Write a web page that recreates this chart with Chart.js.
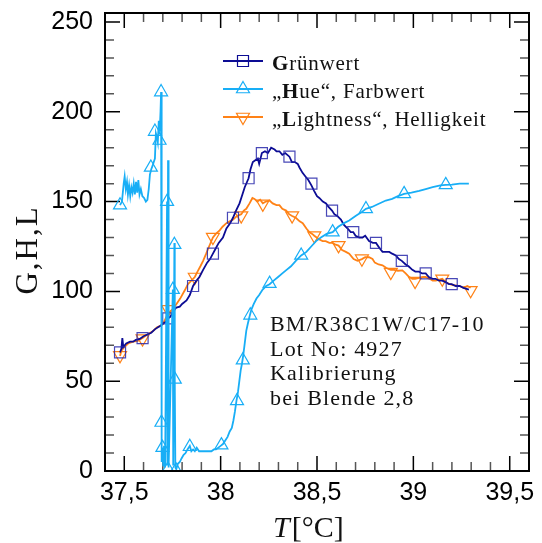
<!DOCTYPE html>
<html>
<head>
<meta charset="utf-8">
<title>G, H, L über T</title>
<script src="https://cdn.jsdelivr.net/npm/chart.js@4.4.1/dist/chart.umd.min.js"></script>
<style>
  html, body { margin: 0; padding: 0; background: #fff; overflow: hidden; }
  #wrap { width: 542px; height: 543px; }
</style>
</head>
<body>
<div id="wrap"><canvas id="chart"></canvas></div>
<script>
// Grünwert (G), line and marker points.
const gruenT = [37.478, 37.485, 37.490, 37.495, 37.510, 37.530, 37.546, 37.560, 37.580, 37.600,
  37.620, 37.640, 37.660, 37.675, 37.690, 37.700, 37.715, 37.728, 37.740, 37.755,
  37.770, 37.788, 37.800, 37.823, 37.840, 37.857, 37.875, 37.890, 37.909, 37.930,
  37.945, 37.960, 37.975, 37.990, 38.012, 38.030, 38.050, 38.064, 38.080, 38.098,
  38.110, 38.125, 38.145, 38.155, 38.167, 38.180, 38.193, 38.200, 38.214, 38.230,
  38.245, 38.262, 38.280, 38.290, 38.305, 38.320, 38.335, 38.357, 38.370, 38.385,
  38.400, 38.409, 38.425, 38.440, 38.455, 38.471, 38.485, 38.500, 38.512, 38.530,
  38.547, 38.560, 38.578, 38.590, 38.605, 38.624, 38.640, 38.659, 38.675, 38.688,
  38.700, 38.720, 38.736, 38.750, 38.770, 38.790, 38.806, 38.825, 38.840, 38.857,
  38.875, 38.890, 38.909, 38.925, 38.940, 38.960, 38.975, 38.995, 39.010, 39.030,
  39.045, 39.064, 39.080, 39.100, 39.115, 39.133, 39.150, 39.170, 39.185, 39.199,
  39.220, 39.240, 39.260, 39.288];
const gruenV = [66, 68, 74, 69, 71, 72, 72, 73, 73.5, 75,
  76, 77, 79, 80, 81, 82, 83, 85, 86, 89,
  91, 91.5, 93, 95, 98, 103, 106, 108, 112, 116,
  118, 121, 124, 127, 130, 135, 138, 141, 145, 149,
  153, 158, 163, 168, 172, 173, 174, 171, 177, 178,
  177, 180, 179, 178, 178, 176, 177, 175, 172, 172,
  171, 169, 166, 164, 162, 159, 156, 153, 152, 150,
  149, 147, 145, 143, 142, 140, 137, 135, 133, 133,
  131, 130, 130, 131, 128, 127, 127, 124, 122, 122,
  122, 121, 120, 118, 117, 115, 114, 112, 111, 111,
  110, 110, 108, 107, 107, 106, 106, 105, 104, 104,
  103, 103, 102, 101];
const gruenMarkT = [37.478, 37.595, 37.728, 37.857, 37.960, 38.064, 38.145, 38.214,
  38.357, 38.471, 38.578, 38.688, 38.806, 38.940, 39.064, 39.199];
const gruenMarkV = [66, 74, 85, 103, 121, 141, 163, 177, 175, 160, 145, 133, 127, 117, 110, 104];

// "Hue", Farbwert (H).
const hueT = [37.478, 37.488, 37.497, 37.502, 37.508, 37.514, 37.519, 37.525, 37.531, 37.537,
  37.543, 37.549, 37.555, 37.561, 37.567, 37.573, 37.579, 37.586, 37.594, 37.603,
  37.612, 37.620, 37.627, 37.633, 37.640, 37.647, 37.653, 37.659, 37.664, 37.669,
  37.674, 37.679, 37.684, 37.688, 37.691, 37.693, 37.695, 37.698, 37.702, 37.706,
  37.712, 37.722, 37.724, 37.727, 37.730, 37.752, 37.754, 37.760, 37.762, 37.765,
  37.770, 37.778, 37.788, 37.797, 37.808, 37.818, 37.828, 37.840, 37.848, 37.857,
  37.866, 37.876, 37.888, 37.900, 37.912, 37.926, 37.940, 37.952, 37.965, 37.976,
  37.988, 38.000, 38.012, 38.024, 38.036, 38.047, 38.058, 38.066, 38.074, 38.082,
  38.090, 38.097, 38.104, 38.111, 38.118, 38.125, 38.133, 38.141, 38.150, 38.160,
  38.172, 38.186, 38.200, 38.218, 38.236, 38.254, 38.275, 38.298, 38.320, 38.342,
  38.365, 38.390, 38.418, 38.445, 38.470, 38.495, 38.520, 38.550, 38.581, 38.610,
  38.640, 38.667, 38.700, 38.730, 38.754, 38.785, 38.815, 38.857, 38.890, 38.920,
  38.952, 38.990, 39.030, 39.064, 39.100, 39.140, 39.168, 39.200, 39.240, 39.288];
const hueV = [148, 150, 160, 164, 157, 161, 154, 159, 153, 158,
  155, 160, 154, 161, 155, 162, 154, 157, 153, 152,
  150, 151, 157, 165, 168, 170, 172, 174, 188, 186,
  183, 195, 189, 200, 211, 28, 5, 13, 3, 14,
  2, 150, 3, 173, 2, 101, 3, 127, 50, 2,
  1, 4, 5, 7, 9, 10, 12, 14, 11, 12,
  11, 13, 11, 11, 11, 11, 11, 11, 12, 12,
  13, 14, 15, 17, 19, 22, 24, 28, 33, 39,
  44, 50, 56, 60, 65, 71, 78, 82, 86, 90,
  93, 96, 98, 101, 103, 104, 106, 108, 110, 112,
  114, 117, 120, 122, 125, 128, 130, 132, 133, 136,
  138, 139.5, 142, 144, 146, 147, 148.5, 150.6, 151.5, 153,
  154.3, 155, 156, 157, 158, 159, 159.3, 159.5, 160, 160];
const hueMarkT = [37.478, 37.638, 37.659, 37.683, 37.691, 37.693, 37.698, 37.722, 37.727,
  37.752, 37.760, 37.762, 37.768, 37.840, 38.004, 38.085, 38.115, 38.154, 38.254,
  38.418, 38.581, 38.754, 38.952, 39.168];
const hueMarkV = [148, 169, 189, 184, 211, 27, 13, 150, 1, 101, 126, 51, 0.5, 13.5,
  14.4, 39, 61.7, 86.7, 104.3, 120, 133, 145.9, 154.3, 159.3];

// "Lightness", Helligkeit (L).
const lightT = [37.478, 37.485, 37.500, 37.520, 37.546, 37.570, 37.595, 37.620, 37.650, 37.670,
  37.690, 37.702, 37.715, 37.728, 37.750, 37.771, 37.790, 37.814, 37.830, 37.848,
  37.866, 37.880, 37.895, 37.909, 37.925, 37.940, 37.960, 37.975, 37.995, 38.010,
  38.030, 38.047, 38.065, 38.085, 38.107, 38.120, 38.133, 38.150, 38.165, 38.176,
  38.190, 38.205, 38.219, 38.235, 38.254, 38.270, 38.290, 38.305, 38.320, 38.340,
  38.355, 38.371, 38.390, 38.410, 38.426, 38.445, 38.460, 38.475, 38.486, 38.510,
  38.529, 38.545, 38.564, 38.580, 38.597, 38.612, 38.630, 38.650, 38.667, 38.690,
  38.710, 38.733, 38.750, 38.770, 38.788, 38.800, 38.820, 38.840, 38.860, 38.883,
  38.900, 38.920, 38.943, 38.960, 38.978, 38.995, 39.009, 39.030, 39.050, 39.064,
  39.085, 39.100, 39.116, 39.135, 39.150, 39.170, 39.190, 39.205, 39.219, 39.240,
  39.260, 39.280, 39.297];
const lightV = [64, 67, 69, 71, 72, 72.5, 74, 76, 78, 80,
  81, 82, 85, 88, 90, 93, 96, 100.6, 104, 106,
  108, 111, 114, 117, 121, 125, 130, 132, 134, 136,
  138, 139, 140, 142, 143, 145, 146, 149, 152, 151.5,
  150, 151, 149, 150, 150.6, 149, 148, 148, 146, 145,
  143, 142, 141, 139, 138, 135, 133, 132, 131, 129,
  128, 128, 127, 127, 126, 125.5, 123, 122, 121, 118,
  117, 118, 119, 119, 118, 116, 115, 114.5, 113, 112,
  112, 111.5, 111.7, 110, 108, 107, 107, 107.5, 108, 108,
  107, 106, 106, 106.5, 107, 105, 104, 103.5, 103.3, 103,
  102, 103, 102];
const lightMarkT = [37.478, 37.595, 37.728, 37.866, 37.960, 38.107, 38.219, 38.371,
  38.486, 38.612, 38.733, 38.883, 39.009, 39.150, 39.297];
const lightMarkV = [64.4, 73.7, 90, 108, 130.2, 142.2, 148.7, 142.2, 131.1, 125.6,
  118.2, 110.7, 105.7, 107, 100.6];

// Axis ticks.
const xTicks = [37.5, 38, 38.5, 39, 39.5];
const yTicks = [0, 50, 100, 150, 200, 250];

// Legend entries and the note in the plot.
const legendLabels = [
  [{ text: 'G', bold: true }, { text: 'rünwert' }],
  [{ text: '„' }, { text: 'H', bold: true }, { text: 'ue“, Farbwert' }],
  [{ text: '„' }, { text: 'L', bold: true }, { text: 'ightness“, Helligkeit' }]
];
const noteLines = ['BM/R38C1W/C17-10', 'Lot No: 4927', 'Kalibrierung', 'bei Blende 2,8'];

const colG = '#0c0c94';
const colH = '#18aef6';
const colL = '#ff8216';
const serif = '"Liberation Serif", "Times New Roman", serif';

function points(ts, vs) {
  return ts.map(function (t, i) {
    return { x: t, y: vs[i] };
  });
}

function commaNumber(value) {
  return String(value).replace('.', ',');
}

// Keep the plot area where the reference has it (no extra room for edge labels).
function noEdgePadding(scale) {
  scale.paddingTop = 0;
  scale.paddingBottom = 0;
  scale.paddingLeft = 0;
  scale.paddingRight = 0;
}

// Draw one marker by hand (used in the legend only).
function drawMarker(ctx, style, x, y, color) {
  ctx.save();
  ctx.strokeStyle = color;
  ctx.lineWidth = 1.2;
  ctx.beginPath();
  if (style === 'rect') {
    ctx.rect(x - 5.5, y - 5.5, 11, 11);
  } else {
    const r = 7.5;
    const s = style === 'down' ? -1 : 1;
    ctx.moveTo(x, y - s * r);
    ctx.lineTo(x + r * 0.866, y + s * r * 0.5);
    ctx.lineTo(x - r * 0.866, y + s * r * 0.5);
    ctx.closePath();
  }
  ctx.stroke();
  ctx.restore();
}

function drawRich(ctx, parts, x, y, size) {
  parts.forEach(function (p) {
    ctx.font = (p.bold ? 'bold ' : '') + size + 'px ' + serif;
    ctx.fillText(p.text, x, y);
    x += ctx.measureText(p.text).width;
  });
}

// Frame and inward ticks on all four sides.
const frameTicks = {
  id: 'frameTicks',
  beforeDatasetsDraw(chart) {
    const ctx = chart.ctx;
    const a = chart.chartArea;
    const xs = chart.scales.x;
    const ys = chart.scales.y;
    ctx.save();
    ctx.lineWidth = 1.5;
    for (let i = 375; i <= 395; i++) {
      const major = i % 5 === 0;
      const px = xs.getPixelForValue(i / 10);
      const len = major ? 15 : 9;
      ctx.strokeStyle = major ? '#000' : '#555';
      ctx.beginPath();
      ctx.moveTo(px, a.bottom);
      ctx.lineTo(px, a.bottom - len);
      ctx.moveTo(px, a.top);
      ctx.lineTo(px, a.top + len);
      ctx.stroke();
    }
    for (let i = 1; i <= 25; i++) {
      const major = i % 5 === 0;
      const py = ys.getPixelForValue(i * 10);
      const len = major ? 15 : 9;
      ctx.strokeStyle = major ? '#000' : '#555';
      ctx.beginPath();
      ctx.moveTo(a.left, py);
      ctx.lineTo(a.left + len, py);
      ctx.moveTo(a.right, py);
      ctx.lineTo(a.right - len, py);
      ctx.stroke();
    }
    ctx.restore();
  },
  afterDraw(chart) {
    const ctx = chart.ctx;
    const a = chart.chartArea;
    ctx.save();
    ctx.strokeStyle = '#000';
    ctx.lineWidth = 2;
    ctx.strokeRect(a.left, a.top, a.right - a.left, a.bottom - a.top);

    // Legend.
    const styles = ['rect', 'up', 'down'];
    const colors = [colG, colH, colL];
    ctx.fillStyle = '#111';
    ctx.letterSpacing = '0.8px';
    legendLabels.forEach(function (parts, i) {
      const ly = 61 + i * 28;
      ctx.strokeStyle = colors[i];
      ctx.lineWidth = 1.8;
      ctx.beginPath();
      ctx.moveTo(223, ly);
      ctx.lineTo(263, ly);
      ctx.stroke();
      drawMarker(ctx, styles[i], 243, ly, colors[i]);
      drawRich(ctx, parts, 272, ly + 8.5, 21);
    });

    // Note.
    ctx.letterSpacing = '1.2px';
    ctx.font = '22px ' + serif;
    noteLines.forEach(function (line, i) {
      ctx.fillText(line, 270, 331 + i * 24.7);
    });

    // Axis titles.
    ctx.letterSpacing = '2px';
    ctx.font = '31px ' + serif;
    ctx.save();
    ctx.translate(37, 250);
    ctx.rotate(-Math.PI / 2);
    ctx.textAlign = 'center';
    ctx.fillText('G,H,L', 0, 0);
    ctx.restore();

    ctx.letterSpacing = '0px';
    let tx = 273;
    ctx.font = 'italic 30px ' + serif;
    ctx.fillText('T', tx, 537);
    tx += ctx.measureText('T').width + 2;
    ctx.font = '30px ' + serif;
    ctx.fillText('[°C]', tx, 537);
    ctx.restore();
  }
};

function lineSet(label, ts, vs, color, order) {
  return {
    label: label,
    data: points(ts, vs),
    borderColor: color,
    borderWidth: 1.8,
    pointRadius: 0,
    tension: 0,
    order: order
  };
}

function markSet(label, ts, vs, color, style, rotation, radius, order) {
  return {
    label: label,
    data: points(ts, vs),
    showLine: false,
    pointStyle: style,
    pointRotation: rotation,
    pointRadius: radius,
    pointBorderWidth: 1.2,
    pointBorderColor: color,
    pointBackgroundColor: 'rgba(0,0,0,0)',
    order: order
  };
}

const ctx = document.querySelector('#chart').getContext('2d');
const chart = new Chart(ctx, {
  type: 'line',
  data: {
    datasets: [
      lineSet('Hue', hueT, hueV, colH, 1),
      markSet('Hue Marker', hueMarkT, hueMarkV, colH, 'triangle', 0, 7.5, 0),
      lineSet('Grünwert', gruenT, gruenV, colG, 3),
      markSet('Grünwert Marker', gruenMarkT, gruenMarkV, 'rgba(40,40,170,0.85)', 'rect', 0, 7.8, 2),
      lineSet('Lightness', lightT, lightV, colL, 5),
      markSet('Lightness Marker', lightMarkT, lightMarkV, colL, 'triangle', 180, 7.5, 4)
    ]
  },
  options: {
    responsive: true,
    maintainAspectRatio: false,
    animation: false,
    layout: { padding: { top: 13, right: 13, left: 0, bottom: 0 } },
    plugins: {
      legend: { display: false },
      tooltip: { enabled: false }
    },
    scales: {
      x: {
        type: 'linear',
        min: 37.4,
        max: 39.6,
        afterBuildTicks: function (scale) {
          scale.ticks = xTicks.map(function (v) { return { value: v }; });
        },
        afterFit: function (scale) {
          scale.height = 72;
          noEdgePadding(scale);
        },
        grid: { display: false, drawTicks: false },
        border: { display: false },
        ticks: {
          padding: 7,
          color: '#000',
          maxRotation: 0,
          font: { family: '"Liberation Sans", Arial, sans-serif', size: 25 },
          callback: commaNumber
        }
      },
      y: {
        type: 'linear',
        min: 0,
        max: 255,
        afterBuildTicks: function (scale) {
          scale.ticks = yTicks.map(function (v) { return { value: v }; });
        },
        afterFit: function (scale) {
          scale.width = 105;
          noEdgePadding(scale);
        },
        grid: { display: false, drawTicks: false },
        border: { display: false },
        ticks: {
          padding: 12,
          color: '#000',
          font: { family: '"Liberation Sans", Arial, sans-serif', size: 25 },
          callback: commaNumber
        }
      }
    }
  },
  plugins: [frameTicks]
});
</script>
</body>
</html>
